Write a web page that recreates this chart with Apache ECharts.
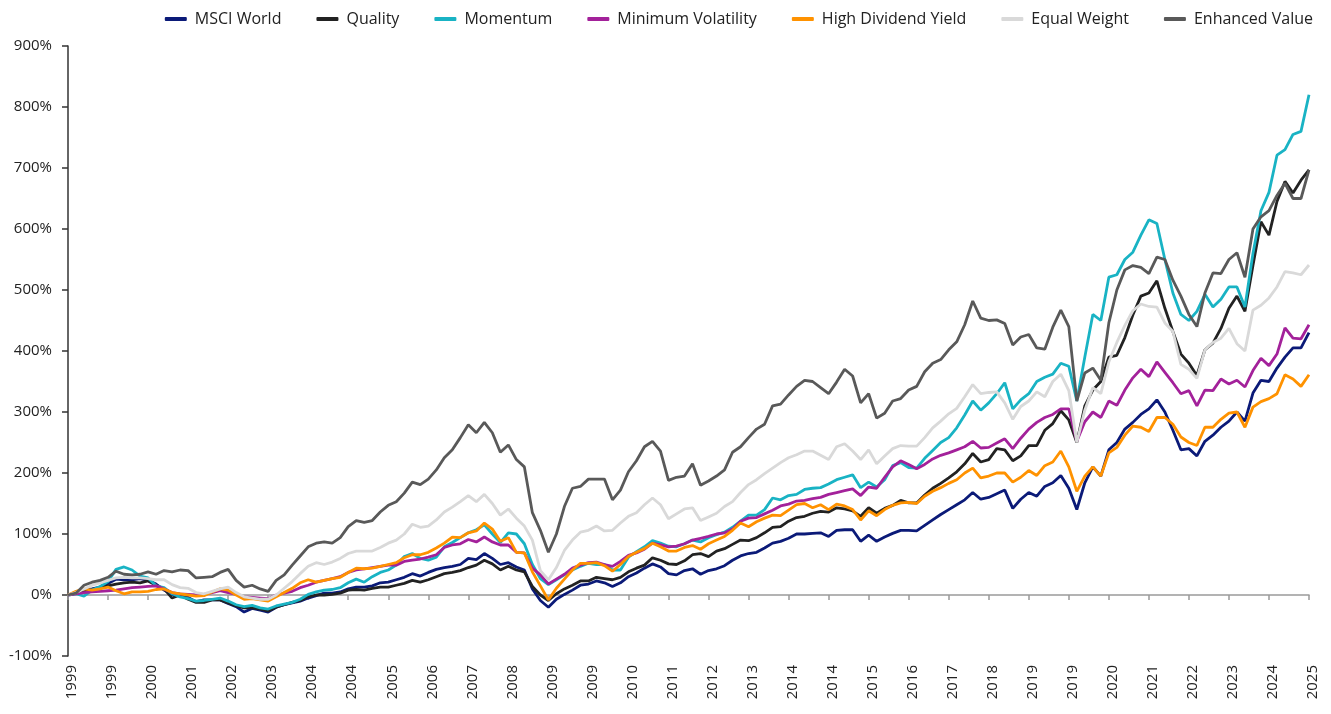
<!DOCTYPE html>
<html>
<head>
<meta charset="utf-8">
<script src="https://cdn.jsdelivr.net/npm/echarts@6/dist/echarts.min.js"></script>
<style>
  html, body { margin: 0; padding: 0; background: #fff; }
  #chart { width: 1331px; height: 714px; }
</style>
</head>
<body>
<div id="chart"></div>
<script>
// cumulative return (%), read every two months off the reference
const tickLabels = ['1999', '1999', '2000', '2001', '2002', '2003', '2004', '2004', '2005', '2006', '2007', '2008', '2009', '2009', '2010', '2011',
  '2012', '2013', '2014', '2014', '2015', '2016', '2017', '2018', '2019', '2019', '2020', '2021', '2022', '2023', '2024', '2025'];

const msciWorld = [
  0, 4, 8, 10, 13, 19, 26, 25, 25, 27,
  24, 18, 8, 1, -2, -4, -11, -8, -8, -8,
  -14, -19, -28, -22, -25, -28, -20, -16, -13, -10,
  -5, -1, 3, 3, 5, 10, 13, 13, 15, 20,
  21, 25, 29, 35, 31, 37, 42, 45, 47, 50,
  60, 58, 68, 60, 50, 53, 46, 41, 10, -9,
  -20, -7, 1, 8, 16, 18, 23, 20, 14, 20,
  30, 36, 44, 51, 46, 35, 33, 40, 43, 34,
  40, 43, 48, 57, 64, 68, 70, 77, 85, 88,
  93, 100, 100, 101, 102, 96, 106, 107, 107, 88,
  98, 88, 95, 101, 106, 106, 105, 114, 123, 132,
  140, 148, 156, 168, 157, 160, 166, 172, 142, 157,
  168, 162, 178, 184, 196, 175, 140, 184, 210, 195,
  238, 250, 272, 283, 296, 305, 320, 300, 270, 238,
  240, 228, 252, 262, 275, 285, 300, 285, 331, 352,
  350, 372, 390, 405, 405, 430
];
const quality = [
  0, 3, 6, 8, 12, 15, 18, 20, 21, 20,
  23, 16, 10, -5, 0, -7, -12, -12, -8, -8,
  -13, -18, -21, -21, -23, -26, -20, -16, -12, -9,
  -3, 0, 0, 1, 3, 8, 9, 8, 11, 13,
  13, 16, 19, 24, 21, 25, 30, 35, 37, 40,
  45, 49, 57, 51, 41, 47, 41, 38, 14, 0,
  -9, 2, 10, 16, 23, 23, 29, 27, 25, 29,
  38, 44, 49, 61, 57, 51, 50, 56, 66, 68,
  63, 72, 76, 83, 90, 89, 94, 102, 111, 112,
  121, 127, 129, 134, 137, 136, 143, 141, 138, 129,
  143, 134, 142, 147, 155, 151, 151, 164, 175, 183,
  192, 202, 215, 232, 218, 222, 240, 238, 220, 228,
  245, 245, 270, 281, 302, 287, 250, 310, 336, 350,
  390, 393, 422, 459, 490, 495, 515, 470, 432, 395,
  380, 360, 402, 413, 437, 470, 490, 465, 540, 612,
  590, 645, 678, 659, 680, 697
];
const momentum = [
  0, 2, -2, 8, 14, 22, 42, 46, 41, 31,
  28, 15, 12, 2, -3, -6, -10, -9, -7, -5,
  -10, -16, -19, -17, -21, -23, -18, -15, -12, -7,
  1, 5, 8, 9, 12, 20, 26, 21, 30, 37,
  41, 49, 63, 68, 60, 57, 62, 79, 86, 94,
  102, 107, 115, 100, 86, 102, 100, 84, 50, 27,
  17, 25, 33, 41, 47, 52, 50, 50, 41, 41,
  62, 71, 79, 89, 85, 80, 79, 84, 90, 87,
  94, 99, 103, 111, 121, 131, 131, 140, 159, 156,
  163, 165, 173, 175, 176, 182, 189, 193, 197, 176,
  185, 177, 189, 212, 217, 209, 208, 224, 237, 250,
  258, 274, 295, 318, 303, 315, 330, 348, 305, 320,
  330, 350, 357, 362, 380, 375, 318, 390, 460, 450,
  521, 525, 550, 562, 590, 615, 609, 550, 495, 460,
  450, 465, 493, 472, 485, 505, 505, 472, 560, 630,
  660, 721, 730, 755, 760, 820
];
const minVolatility = [
  0, 2, 4, 5, 6, 7, 8, 10, 12, 13,
  14, 15, 10, 4, 2, 1, 0, 1, 4, 7,
  4, 1, -3, -4, -5, -6, 0, 3, 6, 12,
  16, 21, 24, 27, 30, 37, 41, 43, 45, 47,
  49, 49, 55, 57, 59, 62, 66, 78, 82, 84,
  91, 87, 95, 87, 82, 82, 70, 69, 44, 33,
  18, 26, 34, 44, 49, 53, 54, 50, 47, 55,
  65, 69, 75, 85, 82, 79, 80, 84, 90, 93,
  96, 100, 102, 108, 121, 126, 127, 133, 139, 146,
  149, 154, 155, 158, 160, 165, 168, 171, 174, 163,
  177, 175, 193, 210, 220, 214, 207, 214, 223, 229,
  233, 238, 243, 252, 241, 242, 249, 256, 240, 257,
  272, 283, 291, 296, 305, 305, 252, 284, 300, 291,
  318, 311, 336, 356, 370, 358, 382, 365, 348, 330,
  335, 310, 336, 335, 354, 346, 352, 341, 368, 388,
  376, 395, 438, 421, 420, 443
];
const highDividend = [
  0, 6, 10, 8, 10, 13, 7, 2, 5, 5,
  6, 9, 10, 4, 2, 0, -2, -1, 5, 10,
  8, 0, -7, -6, -8, -10, -3, 4, 11, 20,
  25, 21, 24, 27, 29, 37, 44, 43, 44, 47,
  50, 53, 61, 66, 66, 70, 77, 85, 95, 94,
  102, 105, 118, 108, 88, 94, 70, 69, 38, 15,
  -8, 11, 26, 41, 52, 52, 53, 48, 39, 50,
  63, 70, 76, 85, 79, 72, 72, 78, 81, 75,
  84, 90, 96, 106, 118, 112, 120, 126, 131, 130,
  139, 148, 150, 143, 148, 140, 149, 146, 140, 123,
  138, 130, 140, 147, 151, 152, 150, 162, 170, 176,
  183, 189, 200, 208, 192, 195, 200, 200, 185, 193,
  204, 196, 212, 218, 236, 210, 170, 195, 210, 195,
  233, 242, 262, 277, 275, 268, 291, 291, 280, 259,
  250, 245, 275, 275, 288, 298, 300, 275, 308, 317,
  322, 330, 361, 354, 342, 361
];
const equalWeight = [
  0, 4, 10, 16, 20, 24, 28, 29, 28, 28,
  27, 25, 25, 17, 12, 11, 4, 2, 6, 10,
  13, 4, -3, -5, -7, -7, 0, 11, 22, 35,
  47, 53, 50, 54, 60, 68, 72, 72, 72, 78,
  85, 90, 100, 116, 111, 113, 123, 136, 144, 153,
  163, 153, 165, 150, 131, 141, 126, 113, 90, 40,
  25, 45, 73, 90, 103, 106, 113, 105, 106, 118,
  129, 135, 148, 159, 148, 125, 133, 141, 143, 122,
  128, 134, 145, 153, 168, 181, 189, 199, 208, 217,
  225, 230, 236, 236, 229, 222, 243, 248, 236, 222,
  238, 215, 228, 240, 245, 244, 244, 258, 274, 285,
  297, 306, 325, 345, 330, 332, 333, 315, 288, 309,
  318, 333, 325, 350, 362, 335, 250, 303, 340, 330,
  382, 414, 442, 466, 477, 473, 472, 446, 432, 378,
  370, 355, 402, 414, 421, 437, 412, 400, 467, 475,
  487, 505, 530, 528, 525, 541
];
const enhancedValue = [
  0, 3, 16, 21, 24, 29, 39, 34, 33, 34,
  38, 34, 40, 38, 41, 40, 28, 29, 30, 37,
  42, 24, 13, 16, 10, 6, 24, 33, 49, 64,
  79, 85, 87, 85, 94, 112, 122, 119, 122, 136,
  147, 153, 167, 185, 181, 190, 205, 225, 238, 258,
  279, 266, 283, 266, 234, 246, 222, 210, 135, 106,
  70, 100, 145, 175, 178, 190, 190, 190, 156, 172,
  202, 220, 243, 252, 236, 188, 193, 195, 215, 180,
  187, 195, 205, 234, 243, 258, 272, 280, 310, 313,
  328, 342, 352, 350, 340, 330, 349, 370, 359, 315,
  330, 290, 298, 318, 322, 336, 342, 366, 380, 386,
  402, 415, 443, 482, 454, 450, 451, 445, 410, 423,
  427, 405, 403, 439, 467, 440, 318, 364, 372, 352,
  446, 500, 533, 540, 537, 527, 554, 550, 516, 490,
  460, 440, 495, 528, 527, 550, 561, 521, 600, 620,
  630, 655, 675, 650, 650, 697
];

const seriesNames = ['MSCI World', 'Quality', 'Momentum', 'Minimum Volatility', 'High Dividend Yield', 'Equal Weight', 'Enhanced Value'];
const seriesData = [msciWorld, quality, momentum, minVolatility, highDividend, equalWeight, enhancedValue];
const colors = ['#0b1a78', '#222222', '#19b3c4', '#a3219a', '#ff9200', '#d9d9d9', '#595959'];

const periods = msciWorld.map((_, i) => String(i));
const font = '"Open Sans", "DejaVu Sans", sans-serif';

const chart = echarts.init(document.getElementById('chart'));
chart.setOption({
  animation: false,
  color: colors,
  textStyle: { fontFamily: font },
  legend: {
    top: 6,
    right: 13,
    itemWidth: 22,
    itemHeight: 4,
    itemGap: 35,
    icon: 'roundRect',
    textStyle: { fontFamily: font, fontSize: 16, color: '#222', padding: [0, 0, 0, 3] },
    data: seriesNames
  },
  grid: { left: 68, right: 22, top: 46, bottom: 58 },
  xAxis: [
    {
      type: 'category',
      data: periods,
      boundaryGap: false,
      axisLine: { show: false, onZero: false },
      axisTick: { show: false },
      axisLabel: {
        interval: 4,
        rotate: 90,
        margin: 9,
        verticalAlign: 'top',
        lineHeight: 8,
        fontFamily: font,
        fontSize: 15,
        color: '#222',
        formatter: (v) => tickLabels[Number(v) / 5] || ''
      }
    },
    {
      type: 'category',
      data: periods,
      boundaryGap: false,
      position: 'bottom',
      axisLine: { show: true, onZero: true, lineStyle: { color: '#9a9a9a', width: 1.5 } },
      axisTick: { show: true, interval: 4, length: 5, lineStyle: { color: '#9a9a9a', width: 1.5 } },
      axisLabel: { show: false },
      splitLine: { show: false }
    }
  ],
  yAxis: {
    type: 'value',
    min: -100,
    max: 900,
    interval: 100,
    axisLine: { show: true, lineStyle: { color: '#333', width: 1.5 } },
    axisTick: { show: true, length: 6, lineStyle: { color: '#333', width: 1.5 } },
    axisLabel: { margin: 16, fontFamily: font, fontSize: 15, color: '#222', formatter: '{value}%' },
    splitLine: { show: false }
  },
  series: seriesNames.map((name, k) => ({
    name,
    type: 'line',
    data: seriesData[k],
    showSymbol: false,
    symbol: 'none',
    lineStyle: { width: 2.8, color: colors[k] },
    itemStyle: { color: colors[k] }
  }))
});
</script>
</body>
</html>
